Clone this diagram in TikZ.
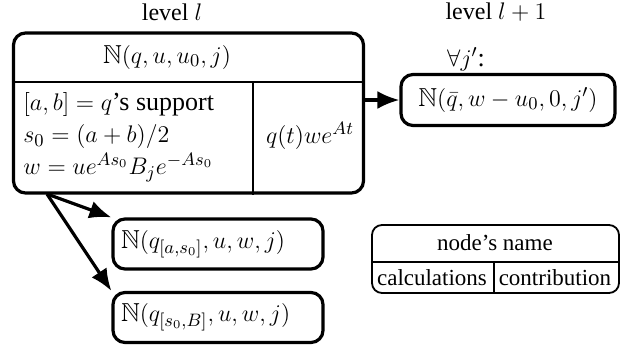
\documentclass[tikz,border=0pt]{standalone}
\usepackage{amssymb}
\usepackage{fontspec}
\setmainfont{Liberation Serif}
\usetikzlibrary{arrows.meta}
\begin{document}
\begin{tikzpicture}[x=0.5pt,y=-0.5pt,
  every node/.style={inner sep=0pt},
  headtext/.style={font=\fontsize{12}{14}\selectfont},
  celltext/.style={font=\fontsize{13}{16}\selectfont},
  legendtext/.style={font=\fontsize{11.5}{13}\selectfont},
  bigbox/.style={draw, line width=1.6pt, rounded corners=6pt, rectangle},
  childbox/.style={bigbox, celltext, inner xsep=4pt, text width=97pt, align=left,
    minimum height=25pt},
  smallbox/.style={draw, line width=0.9pt, rounded corners=5pt, rectangle},
  divider/.style={line width=0.7pt},
  link/.style={line width=1.6pt, -{Latex[length=11pt,width=9pt]}}]
\useasboundingbox (0,0) rectangle (629,349);

% level headings
\node[headtext] (lvl) at (172,12) {level $l$};
\node[headtext] (lvlnext) at (496,12) {level $l+1$};

% current node: name on top, calculations and contribution below
\node[bigbox, minimum width=175pt, minimum height=80pt] (main) at (188.5,113) {};
\draw[divider] (main.west |- 0,82) -- (main.east |- 0,82);
\draw[divider] (253,82) -- (main.south -| 253,0);
\node[celltext] (mname) at (167,57) {$\mathbb{N}(q,u,u_0,j)$};
\node[celltext, anchor=west, align=left] (mcalc) at (23,137)
  {$[a,b]=q$'s support\\ $s_0=(a+b)/2$\\ $w=ue^{As_0}B_je^{-As_0}$};
\node[celltext] (mcontr) at (310,136) {$q(t)we^{At}$};

% next level node
\node[celltext] (forall) at (466,59) {$\forall j'$:};
\node[bigbox, celltext, minimum width=107pt, minimum height=25.5pt] (next) at (508,100)
  {$\mathbb{N}(\bar q,w-u_0,0,j')$};

% children on the same level
\node[childbox] (left) at (218,244) {$\mathbb{N}(q_{[a,s_0]},u,w,j)$};
\node[childbox] (right) at (218,317.5) {$\mathbb{N}(q_{[s_0,B]},u,w,j)$};

% connectors
\coordinate (split) at (47,194);
\draw[link] (main.east |- next.west) -- (next.west);
\draw[link] (split) -- (left.north west);
\draw[link] (split) -- (right.north west);

% legend
\node[smallbox, minimum width=123.5pt, minimum height=34pt] (legend) at (495.5,259) {};
\draw[divider] (legend.west |- 0,262) -- (legend.east |- 0,262);
\draw[divider] (494,262) -- (legend.south -| 494,0);
\node[legendtext] (lname) at (495,243) {node’s name};
\node[legendtext] (lcalc) at (432,278) {calculations};
\node[legendtext] (lcontr) at (555,278) {contribution};
\end{tikzpicture}
\end{document}
